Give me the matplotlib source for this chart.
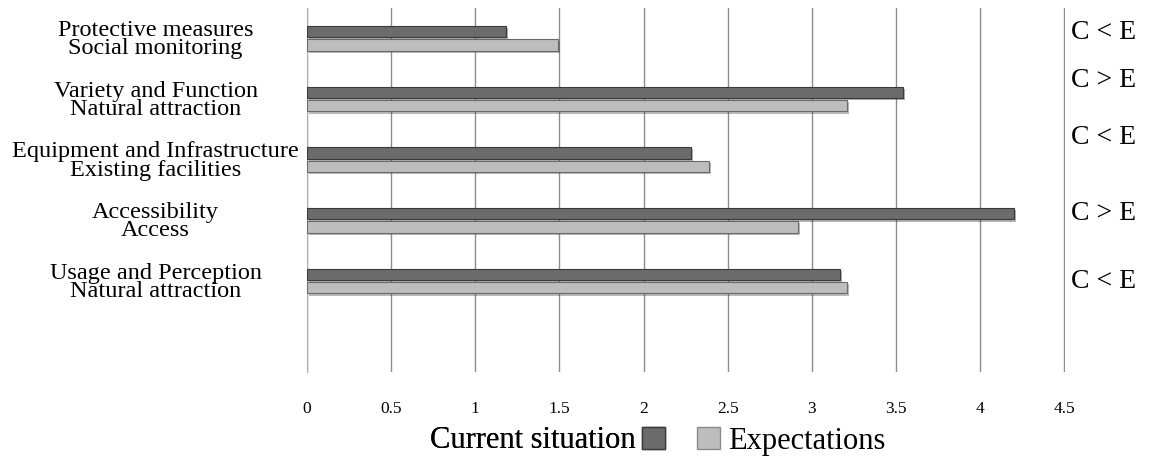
import matplotlib.pyplot as plt
import matplotlib.patheffects as pe
from matplotlib.patches import Patch
import numpy as np

# categories top to bottom (last slot is left empty in the original)
categories = [
    "Protective measures\nSocial monitoring",
    "Variety and Function\nNatural attraction",
    "Equipment and Infrastructure\nExisting facilities",
    "Accessibility\nAccess",
    "Usage and Perception\nNatural attraction",
    "",
]
current = [1.18, 3.54, 2.28, 4.20, 3.17]
expectations = [1.49, 3.21, 2.39, 2.92, 3.21]
comparisons = ["C < E", "C > E", "C < E", "C > E", "C < E"]
comparison_y = [-0.1, 0.69, 1.64, 2.88, 4.01]
xticks = [0, 0.5, 1, 1.5, 2, 2.5, 3, 3.5, 4, 4.5]

plt.rcParams['font.family'] = ['Liberation Serif', 'DejaVu Serif']

fig = plt.figure(figsize=(11.53, 4.57), dpi=100)
ax = fig.add_axes([307 / 1153, 1 - 372 / 457, (1065 - 307) / 1153, (372 - 8) / 457])

y = np.arange(len(current))
h = 0.19
shadow = [pe.SimplePatchShadow(offset=(1.5, -1.5), alpha=0.35), pe.Normal()]
bars_c = ax.barh(y - 0.11, current, height=h, color="#6b6b6b", edgecolor="#3a3a3a",
                 linewidth=0.8, zorder=3)
bars_e = ax.barh(y + 0.11, expectations, height=h, color="#bdbdbd", edgecolor="#6a6a6a",
                 linewidth=0.8, zorder=3)
for b in list(bars_c) + list(bars_e):
    b.set_path_effects(shadow)

ax.set_xlim(0, 4.505)
ax.set_ylim(len(categories) - 0.5, -0.5)
ax.set_xticks(xticks)
ax.set_xticklabels([f"{t:g}" for t in xticks], fontsize=12.5)
ax.set_yticks(np.arange(len(categories)))
ax.set_yticklabels(categories, fontsize=17.5, ha="center", linespacing=0.85)
ax.tick_params(axis="y", length=0, pad=109)
ax.tick_params(axis="x", length=0, pad=21)

ax.grid(axis="x", color="#8c8c8c", linewidth=1, zorder=0)
for s in ["top", "right", "bottom"]:
    ax.spines[s].set_visible(False)
ax.spines["left"].set_color("#b0b0b0")

for txt, yy in zip(comparisons, comparison_y):
    ax.text(4.54, yy, txt, fontsize=20, va="center", ha="left", clip_on=False)

leg1 = fig.legend(handles=[Patch(facecolor="#6b6b6b", edgecolor="#3a3a3a")],
                  labels=["Current situation"], markerfirst=False, frameon=False,
                  fontsize=22, loc="center right", bbox_to_anchor=(686 / 1153, 1 - 441 / 457),
                  handlelength=0.75, handleheight=0.75, handletextpad=0.2, borderpad=0.2)
leg2 = fig.legend(handles=[Patch(facecolor="#bdbdbd", edgecolor="#8a8a8a")],
                  labels=["Expectations"], frameon=False,
                  fontsize=22, loc="center left", bbox_to_anchor=(676 / 1153, 1 - 441 / 457),
                  handlelength=0.75, handleheight=0.75, handletextpad=0.25, borderpad=0.2)
fig.add_artist(leg1)

fig.savefig("out.png", dpi=100)
